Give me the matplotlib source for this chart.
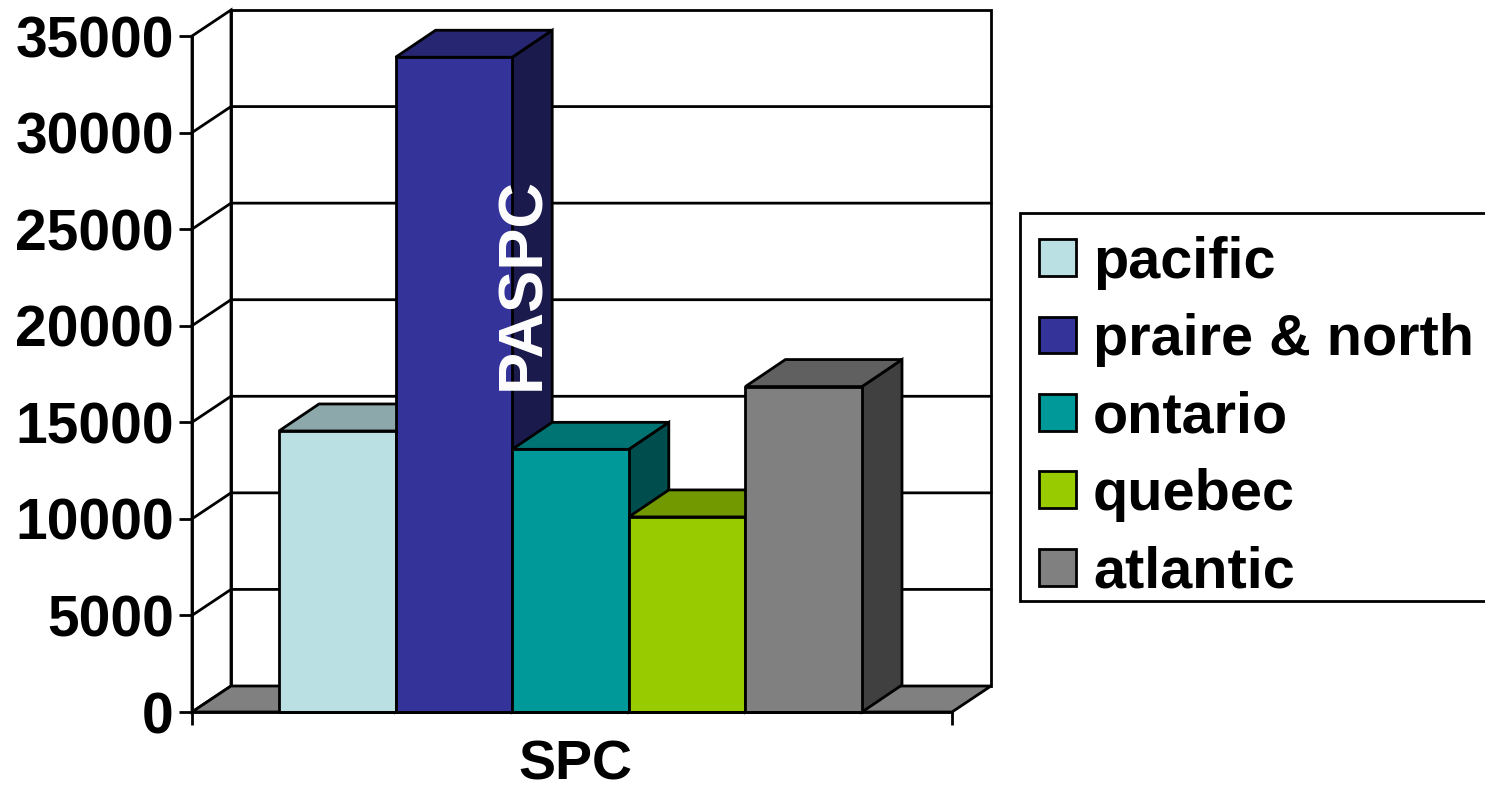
import matplotlib
matplotlib.use("Agg")
import matplotlib.pyplot as plt
from matplotlib.patches import Polygon, Patch, Rectangle
import matplotlib.colors as mcolors
import numpy as np

# data
regions = ['pacific', 'praire & north', 'ontario', 'quebec', 'atlantic']
values = [14550, 33900, 13600, 10100, 16850]
colors = ['#BBE0E3', '#333399', '#009999', '#99CC00', '#808080']
yticks = [0, 5000, 10000, 15000, 20000, 25000, 30000, 35000]
category = 'SPC'

W, H = 1485, 793
plt.rcParams['font.family'] = ['Liberation Sans', 'DejaVu Sans']
plt.rcParams['font.weight'] = 'bold'

fig = plt.figure(figsize=(W / 100, H / 100), dpi=100)
# front plane of the 3d box
ax = fig.add_axes([192 / W, 1 - 712 / H, 760 / W, 676 / H])
ax.set_xlim(0, 1)
ax.set_ylim(0, 35000)
ax.patch.set_visible(False)

# depth of the fake 3d, in data units
dx = 39 / 760
dy = 26 / 676 * 35000
bar_dx = 40 / 760
bar_dy = 27 / 676 * 35000
lw = 2.0


def poly(pts, fc, z):
    ax.add_patch(Polygon(pts, closed=True, facecolor=fc, edgecolor='black',
                         linewidth=lw, clip_on=False, zorder=z, joinstyle='miter'))


def shade(color, f):
    return tuple(c * f for c in mcolors.to_rgb(color))


# walls and floor
top = yticks[-1]
poly([(dx, dy), (1 + dx, dy), (1 + dx, top + dy), (dx, top + dy)], 'white', 1)
poly([(0, 0), (dx, dy), (dx, top + dy), (0, top)], 'white', 1)
poly([(0, 0), (dx, dy), (1 + dx, dy), (1, 0)], '#808080', 1)
for t in yticks[1:-1]:
    ax.plot([0, dx, 1 + dx], [t, t + dy, t + dy], color='black', lw=lw,
            clip_on=False, zorder=2, solid_joinstyle='miter')

# bars
bar_w = 116.6 / 760
x0 = (279 - 192) / 760
for i, (v, c) in enumerate(zip(values, colors)):
    left = x0 + i * bar_w
    right = left + bar_w
    poly([(right, 0), (right + bar_dx, bar_dy), (right + bar_dx, v + bar_dy), (right, v)], shade(c, 0.5), 3 + i)
    poly([(left, v), (left + bar_dx, v + bar_dy), (right + bar_dx, v + bar_dy), (right, v)], shade(c, 0.75), 3 + i)
    ax.bar(left, v, width=bar_w, align='edge', color=c, edgecolor='black',
           linewidth=lw, zorder=3 + i, clip_on=False)

# axes
for s in ['top', 'right']:
    ax.spines[s].set_visible(False)
for s in ['left', 'bottom']:
    ax.spines[s].set_linewidth(lw)
    ax.spines[s].set_zorder(20)
ax.set_yticks(yticks)
ax.set_yticklabels([str(t) for t in yticks], fontsize=41, fontweight='bold')
ax.tick_params(axis='y', length=9.5, width=lw, pad=3.5)
ax.set_xticks([0, 1])
ax.set_xticklabels(['', ''])
ax.tick_params(axis='x', which='major', length=9.5, width=lw)
ax.set_xticks([0.505], minor=True)
ax.set_xticklabels([category], minor=True, fontsize=40, fontweight='bold')
ax.tick_params(axis='x', which='minor', length=0, pad=20)

# the white label over the tall bar
fig.text(523 / W, 1 - 283 / H, 'PASPC', color='white', fontsize=45.5, fontweight='bold',
         rotation=90, ha='center', va='center', zorder=30)

# legend box runs off the right edge
fig.add_artist(Rectangle((1020 / W, 1 - 601 / H), 480 / W, 388 / H, transform=fig.transFigure,
                         facecolor='white', edgecolor='black', linewidth=lw, zorder=5))
handles = [Patch(facecolor=c, edgecolor='black', linewidth=lw) for c in colors]
fs = 41.5
px = fs * 100 / 72
leg = fig.legend(handles, regions, loc='upper left',
                 bbox_to_anchor=(1039 / W, 1 - 236 / H),
                 borderaxespad=0, borderpad=0, fontsize=fs, frameon=False,
                 handlelength=37 / px, handleheight=35 / px, handletextpad=17 / px,
                 labelspacing=0.405)
leg.set_zorder(6)

fig.savefig('out.png', dpi=100)
